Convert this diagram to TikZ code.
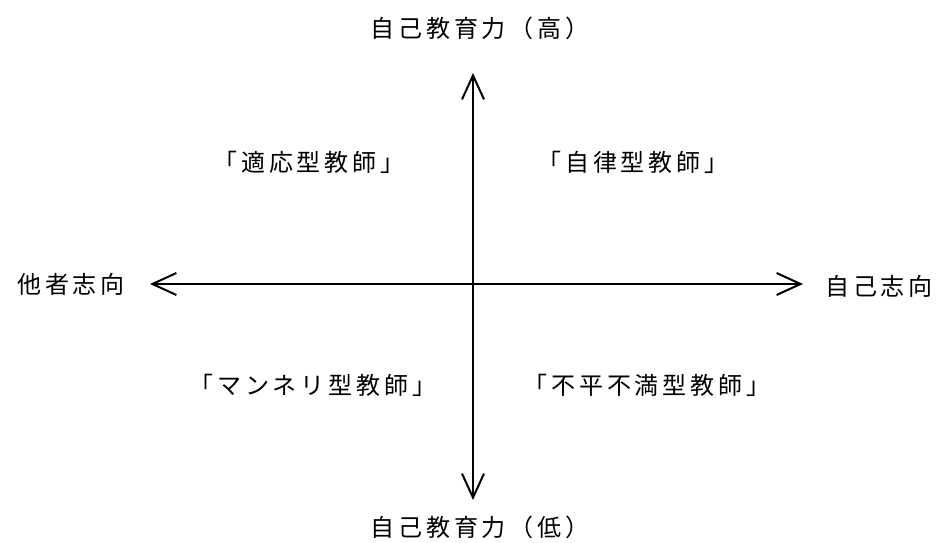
\documentclass[tikz,border=0pt]{standalone}
\usepackage{fontspec}
\newfontfamily\jp{Noto Sans CJK JP}[LetterSpace=16]
\usetikzlibrary{arrows.meta}
\begin{document}
\begin{tikzpicture}[x=1pt,y=-1pt,
  lbl/.style={font=\jp\fontsize{24}{26}\selectfont, inner sep=0pt},
  axis/.style={line width=1.8pt, {Straight Barb[length=24pt,width=22pt,line width=2pt]}-{Straight Barb[length=24pt,width=22pt,line width=2pt]}}]
\useasboundingbox (0,0) rectangle (937,543);
\node[lbl] (top) at (480,28) {自己教育力（高）};
\node[lbl] (bot) at (480,527) {自己教育力（低）};
\node[lbl] (left) at (71,284) {他者志向};
\node[lbl] (right) at (879,286) {自己志向};
\coordinate (T) at (473,73);
\coordinate (B) at (473,500);
\coordinate (L) at (150,284);
\coordinate (R) at (803,284);
\draw[axis] (T) -- (B);
\draw[axis] (L) -- (R);
\node[lbl] (q1) at (309,162) {「適応型教師」};
\node[lbl] (q2) at (633,162) {「自律型教師」};
\node[lbl] (q3) at (313,385) {「マンネリ型教師」};
\node[lbl] (q4) at (647,385) {「不平不満型教師」};
\end{tikzpicture}
\end{document}
